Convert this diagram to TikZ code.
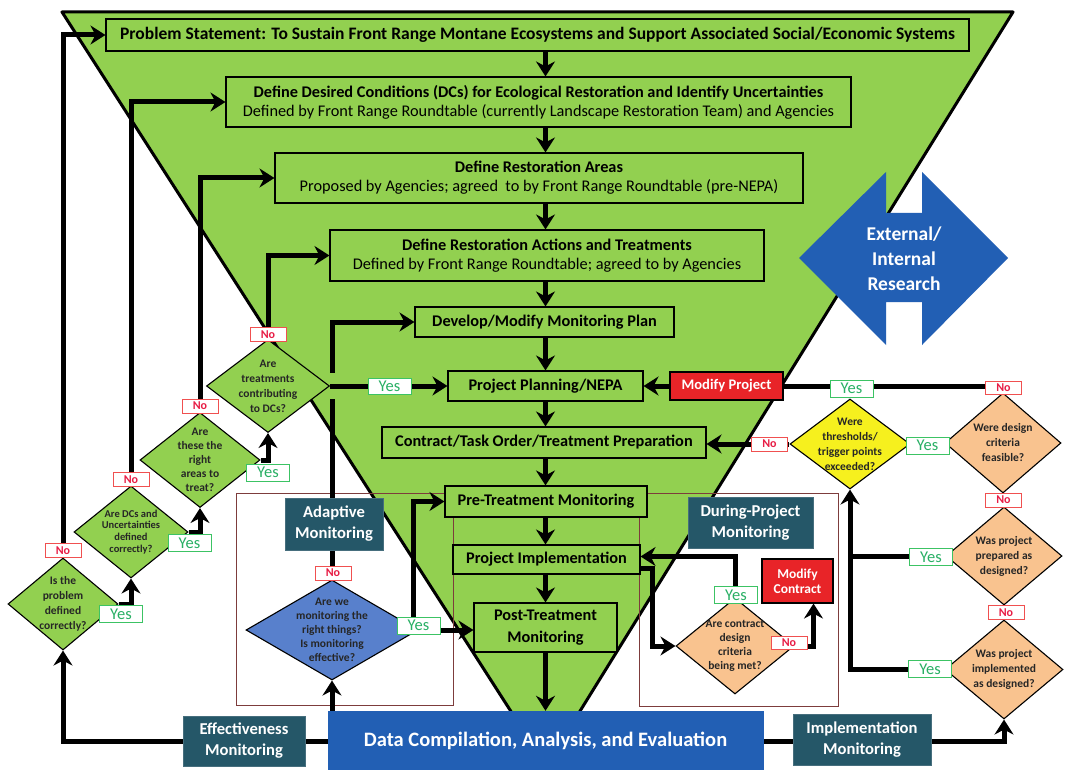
\documentclass[tikz,border=0pt]{standalone}
\usepackage{fontspec}
\setmainfont{Carlito}
\usetikzlibrary{arrows.meta,shapes.geometric,calc}
\definecolor{lgreen}{RGB}{146,208,80}
\definecolor{cTeal}{RGB}{37,87,104}
\definecolor{cTealB}{RGB}{70,110,125}
\definecolor{cBlue}{RGB}{34,95,180}
\definecolor{cDBlue}{RGB}{88,128,204}
\definecolor{cOrange}{RGB}{249,195,143}
\definecolor{cYellow}{RGB}{246,240,30}
\definecolor{cRed}{RGB}{232,36,40}
\definecolor{cYes}{RGB}{40,175,100}
\definecolor{cYesB}{RGB}{60,195,100}
\definecolor{cNo}{RGB}{232,30,70}
\definecolor{cNoB}{RGB}{240,80,80}
\definecolor{cFrame}{RGB}{125,60,60}
\pgfdeclarelayer{back}
\pgfdeclarelayer{mid}
\pgfsetlayers{back,mid,main}
\begin{document}
\begin{tikzpicture}[x=1pt,y=-1pt,
  box/.style={draw, line width=1.1pt, fill=lgreen, inner sep=0pt, align=center, font=\bfseries\fontsize{16.3}{19}\selectfont},
  tbox/.style={draw=cTealB, line width=0.8pt, fill=cTeal, inner sep=0pt, align=center, text=white, font=\bfseries\fontsize{16.6}{21}\selectfont},
  rbox/.style={draw, line width=1.1pt, fill=cRed, inner sep=0pt, align=center, text=white},
  dia/.style={diamond, draw, line width=1.1pt, fill=lgreen, inner sep=0pt},
  dtxt/.style={align=center, font=\bfseries\fontsize{11.5}{15}\selectfont, text=black!85},
  yes/.style={draw=cYesB, line width=1pt, fill=white, text=cYes, font=\fontsize{16.5}{16}\selectfont, inner sep=0pt, minimum width=43pt, minimum height=17pt},
  no/.style={draw=cNoB, line width=1pt, fill=white, text=cNo, font=\bfseries\fontsize{12}{12}\selectfont, inner sep=0pt, minimum width=36pt, minimum height=14pt},
  arr/.style={line width=5pt, -{Stealth[length=15pt,width=19pt,inset=5pt]}},
  ln/.style={line width=5pt},
  frm/.style={draw=cFrame, line width=1pt}
]
\useasboundingbox (0,0) rectangle (1066,770);

% funnel
\begin{pgfonlayer}{back}
\fill[white] (0,0) rectangle (1066,770);
\draw[fill=lgreen, line width=3pt, line join=round] (62,12) -- (1013,12) -- (546,766) -- cycle;
\draw[frm] (236,493) rectangle (453,705);
\draw[frm] (639,493) rectangle (838,706);
\end{pgfonlayer}

% external research arrow
\fill[cBlue] (799,258) -- (886,172) -- (886,213) -- (922,213) -- (922,172) -- (1008,258) -- (922,345) -- (922,302) -- (886,302) -- (886,345) -- cycle;
\node[align=center, text=white, font=\bfseries\fontsize{19.5}{25}\selectfont] (ext) at (904,259) {External/\\Internal\\Research};

% main boxes
\node[box, minimum width=863pt, minimum height=32pt, font=\bfseries\fontsize{17.5}{19}\selectfont] (ps) at (537.5,35) {Problem Statement: To Sustain Front Range Montane Ecosystems and Support Associated Social/Economic Systems};
\node[box, minimum width=625pt, minimum height=50pt] (dc) at (538.5,102) {Define Desired Conditions (DCs) for Ecological Restoration and Identify Uncertainties\\\mdseries Defined by Front Range Roundtable (currently Landscape Restoration Team) and Agencies};
\node[box, minimum width=528pt, minimum height=50pt] (ra) at (539,178) {Define Restoration Areas\\\mdseries Proposed by Agencies; agreed\ \ to by Front Range Roundtable (pre-NEPA)};
\node[box, minimum width=434pt, minimum height=51pt] (act) at (547,255.5) {Define Restoration Actions and Treatments\\\mdseries Defined by Front Range Roundtable; agreed to by Agencies};
\node[box, minimum width=259pt, minimum height=30pt] (mon) at (544.5,322) {Develop/Modify Monitoring Plan};
\node[box, minimum width=195pt, minimum height=30pt] (npa) at (545.5,386) {Project Planning/NEPA};
\node[box, minimum width=324pt, minimum height=31pt] (con) at (544,442.5) {Contract/Task Order/Treatment Preparation};
\node[box, minimum width=202pt, minimum height=31pt] (pre) at (546,501.5) {Pre-Treatment Monitoring};
\node[box, minimum width=187pt, minimum height=29pt] (imp) at (546.5,559.5) {Project Implementation};
\node[box, minimum width=143pt, minimum height=49pt, font=\bfseries\fontsize{16.3}{22}\selectfont] (post) at (545.5,627.5) {Post-Treatment\\Monitoring};
\node[draw=cBlue, fill=cBlue, inner sep=0pt, minimum width=435pt, minimum height=60pt, text=white, font=\bfseries\fontsize{20.5}{22}\selectfont] (data) at (545.5,741) {Data Compilation, Analysis, and Evaluation};

% teal boxes
\node[tbox, minimum width=122pt, minimum height=50pt] (eff) at (244,741) {Effectiveness\\Monitoring};
\node[tbox, minimum width=138pt, minimum height=51pt] (impm) at (862,739.5) {Implementation\\Monitoring};
\node[tbox, minimum width=98pt, minimum height=52pt] (adm) at (334,524) {Adaptive\\Monitoring};
\node[tbox, minimum width=125pt, minimum height=51pt] (dpm) at (750.5,522.5) {During-Project\\Monitoring};

% red boxes
\node[rbox, minimum width=71pt, minimum height=44pt, font=\bfseries\fontsize{13.5}{15}\selectfont] (mc) at (797.5,581) {Modify\\Contract};
\node[rbox, minimum width=113pt, minimum height=28pt, font=\bfseries\fontsize{14.6}{16}\selectfont] (mp) at (726.5,386) {Modify Project};

% diamonds
\node[dia, minimum width=110pt, minimum height=92pt] (d1) at (63,604) {};
\node[dtxt] at (d1) {Is the\\problem\\defined\\correctly?};
\node[dia, minimum width=114pt, minimum height=92pt] (d2) at (131,532) {};
\node[dtxt, font=\bfseries\fontsize{10.5}{11.8}\selectfont] at (d2) {Are DCs and\\Uncertainties\\defined\\correctly?};
\node[dia, minimum width=120pt, minimum height=95pt] (d3) at (200,460) {};
\node[dtxt, font=\bfseries\fontsize{11.5}{14}\selectfont] at (d3) {Are\\these the\\right\\areas to\\treat?};
\node[dia, minimum width=123pt, minimum height=93pt] (d4) at (268,386) {};
\node[dtxt] at (d4) {Are\\treatments\\contributing\\to DCs?};
\node[dia, fill=cDBlue, minimum width=172pt, minimum height=100pt] (db) at (332,630) {};
\node[dtxt, font=\bfseries\fontsize{11.5}{14}\selectfont] at (db) {Are we\\monitoring the\\right things?\\Is monitoring\\effective?};
\node[dia, fill=cYellow, minimum width=120pt, minimum height=90pt] (dy) at (850,444) {};
\node[dtxt] at (dy) {Were\\thresholds/\\trigger points\\exceeded?};
\node[dia, fill=cOrange, minimum width=118pt, minimum height=96pt] (dk) at (735,646) {};
\node[dtxt, font=\bfseries\fontsize{11.5}{14}\selectfont] at (dk) {Are contract\\design\\criteria\\being met?};
\node[dia, fill=cOrange, minimum width=116pt, minimum height=100pt] (r1) at (1003,443) {};
\node[dtxt] at (r1) {Were design\\criteria\\feasible?};
\node[dia, fill=cOrange, minimum width=116pt, minimum height=98pt] (r2) at (1004,556) {};
\node[dtxt] at (r2) {Was project\\prepared as\\designed?};
\node[dia, fill=cOrange, minimum width=118pt, minimum height=99pt] (r3) at (1004,669.5) {};
\node[dtxt] at (r3) {Was project\\implemented\\as designed?};

% yes / no labels
\node[yes] (y1) at (121,614) {Yes};
\node[no] (n1) at (63,550.5) {No};
\node[yes] (y2) at (189.5,543) {Yes};
\node[no] (n2) at (131,479.5) {No};
\node[yes] (y3) at (268,472.5) {Yes};
\node[no] (n3) at (200,406) {No};
\node[no] (n4) at (268,334.5) {No};
\node[yes, minimum height=16pt] (y4) at (389.5,386) {Yes};
\node[no] (nb) at (333,573) {No};
\node[yes] (yb) at (418.5,625.5) {Yes};
\node[yes] (yy) at (851.5,388.5) {Yes};
\node[no, minimum height=13pt] (nr1) at (1003.5,387.5) {No};
\node[yes] (yr1) at (927.5,445.5) {Yes};
\node[no] (ny) at (769.5,444) {No};
\node[no] (nr2) at (1003.5,500) {No};
\node[no] (nr3) at (1006,612.5) {No};
\node[yes] (yr2) at (931,557) {Yes};
\node[yes] (yr3) at (930,669) {Yes};
\node[yes] (yc) at (736,595) {Yes};
\node[no, minimum height=13pt] (nc) at (789,642.5) {No};

% connectors
\begin{pgfonlayer}{mid}
% main column
\draw[arr] (ps.south -| npa) -- (dc.north -| npa);
\draw[arr] (dc.south -| npa) -- (ra.north -| npa);
\draw[arr] (ra.south -| npa) -- (act.north -| npa);
\draw[arr] (act.south -| npa) -- (mon.north -| npa);
\draw[arr] (mon.south -| npa) -- (npa.north);
\draw[arr] (npa.south) -- (con.north -| npa);
\draw[arr] (con.south -| npa) -- (pre.north -| npa);
\draw[arr] (pre.south -| npa) -- (imp.north -| npa);
\draw[arr] (imp.south -| npa) -- (post.north -| npa);
\draw[arr] (post.south -| npa) -- (data.north -| npa);
% left decision chain
\draw[arr] (d1.east) -| (d2.south);
\draw[arr] (d2.east) -| (d3.south);
\draw[arr] (d3.east) -| (d4.south);
\draw[arr] (d1.north) |- (ps.west);
\draw[arr] (d2.north) |- (dc.west);
\draw[arr] (d3.north) |- (ra.west);
\draw[arr] (d4.north) |- (act.west);
% adaptive monitoring
\draw[arr] (db.north) |- (mon.west);
\fill[lgreen] (327,373) rectangle (339,399);
\draw[arr] (d4.east) -- (npa.west);
\draw[arr] (db.east) -- (db.east -| post.west);
\draw[arr] ([xshift=-5.5pt]yb.north) |- (pre.west);
\draw[arr] (data.north -| db) -- (db.south);
\draw[arr] (data.west) -| (d1.south);
\draw[arr] (data.east) -| (r3.south);
% implementation monitoring
\draw[arr] (r3.west) -| (dy.south);
\draw[ln] (r2.west) -- (r2.west -| dy.south);
\draw[ln] (r1.west) -- (dy.east);
\draw[ln] (r1.north) |- (mp.east);
\draw[ln] (dy.north) -- (dy.north |- mp.east);
\draw[arr] (mp.west) -- (npa.east);
\draw[arr] (dy.west) -- (dy.west -| con.east);
% during project
\draw[arr] ([yshift=-8.5pt]imp.east) -- ++(12,0) |- (dk.west);
\draw[arr] (dk.north) |- ([yshift=3pt]imp.east);
\draw[arr] (dk.east) -| ([xshift=16pt]mc.south);
\end{pgfonlayer}
\end{tikzpicture}
\end{document}
